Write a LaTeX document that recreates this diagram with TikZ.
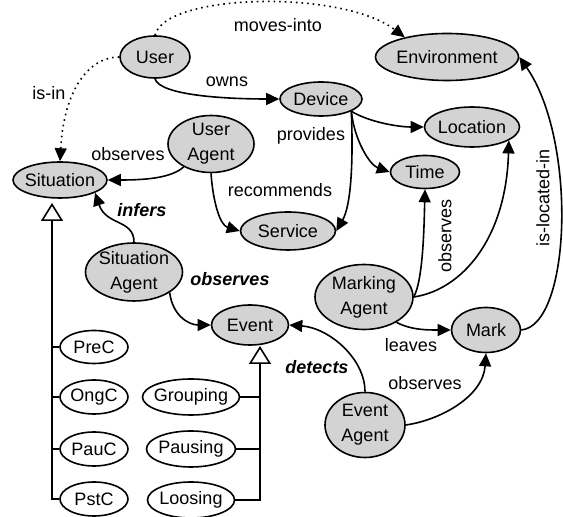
\documentclass[tikz,border=0pt]{standalone}
\usepackage{fontspec}
\setmainfont{Liberation Sans}
\usetikzlibrary{arrows.meta,shapes.geometric}
\definecolor{cgray}{RGB}{211,211,211}
\tikzset{
  cls/.style  ={ellipse, draw=black, fill=cgray, line width=0.8pt, inner sep=-1.5pt,
                align=center, font=\fontsize{9}{12.5}\selectfont},
  sub/.style  ={cls, fill=white},
  ar/.style   ={-{Triangle[length=6.5pt,width=6pt]}, line width=0.8pt},
  ard/.style  ={ar, dotted},
  isa/.style  ={-{Triangle[fill=white,length=9pt,width=11pt]}, line width=0.8pt},
  tree/.style ={line width=0.8pt},
  lbl/.style  ={font=\fontsize{9}{11}\selectfont, inner sep=0pt},
  lblb/.style ={lbl, font=\fontsize{9}{11}\selectfont\bfseries\itshape}
}

\begin{document}
\begin{tikzpicture}[x=0.5pt,y=-0.5pt]
\useasboundingbox (0,0) rectangle (563,517);

% classes
\node[cls, minimum width=35pt, minimum height=21pt] (user) at (155,57) {User};
\node[cls, minimum width=71.5pt, minimum height=23.5pt] (env) at (447,57) {Environment};
\node[cls, minimum width=41pt, minimum height=17pt] (device) at (321,99) {Device};
\node[cls, minimum width=47.5pt, minimum height=20pt] (loc) at (472,127) {Location};
\node[cls, minimum width=34.5pt, minimum height=16.5pt] (time) at (425,172) {Time};
\node[cls, minimum width=47.5pt, minimum height=19pt] (service) at (288,231) {Service};
\node[cls, minimum width=43pt, minimum height=28.5pt] (uagent) at (211,144) {User\\Agent};
\node[cls, minimum width=47pt, minimum height=18pt] (sit) at (60,180) {Situation};
\node[cls, minimum width=48.5pt, minimum height=29pt] (sagent) at (134,272) {Situation\\Agent};
\node[cls, minimum width=38.5pt, minimum height=20pt] (event) at (250,325) {Event};
\node[cls, minimum width=49pt, minimum height=32.5pt] (magent) at (364,297) {Marking\\Agent};
\node[cls, minimum width=34.5pt, minimum height=22.5pt] (mark) at (486,330) {Mark};
\node[cls, minimum width=40pt, minimum height=32.5pt] (eagent) at (365,425) {Event\\Agent};

% subclasses
\node[sub, minimum width=34pt, minimum height=16.5pt] (prec) at (94,347) {PreC};
\node[sub, minimum width=34pt, minimum height=17pt] (ongc) at (94,397) {OngC};
\node[sub, minimum width=34pt, minimum height=17pt] (pauc) at (94,449) {PauC};
\node[sub, minimum width=34pt, minimum height=17pt] (pstc) at (94,499) {PstC};
\node[sub, minimum width=48.5pt, minimum height=18pt] (grouping) at (191,397) {Grouping};
\node[sub, minimum width=44.5pt, minimum height=18pt] (pausing) at (191,449) {Pausing};
\node[sub, minimum width=43.5pt, minimum height=18pt] (loosing) at (191,500) {Loosing};

% is-a trees
\coordinate (sitfoot) at (52,203);
\coordinate (evfoot) at (260,346);
\draw[isa] (pstc.west) -| (sitfoot);
\draw[tree] (prec.west) -- (prec.west -| sitfoot);
\draw[tree] (ongc.west) -- (ongc.west -| sitfoot);
\draw[tree] (pauc.west) -- (pauc.west -| sitfoot);
\draw[isa] (loosing.east) -| (evfoot);
\draw[tree] (grouping.east) -- (grouping.east -| evfoot);
\draw[tree] (pausing.east) -- (pausing.east -| evfoot);

% relations
\draw[ard] (user.north) .. controls +(10,-42) and +(-63,-48) .. (env.155);
\draw[ard] (user.west) .. controls +(-30,0) and +(4,-72) .. (sit.north);
\draw[ar] (user.south) .. controls +(5,17) and +(-51,0) .. (device.west);
\draw[ar] (device.-22) .. controls +(18,11) and +(-25,0) .. (loc.west);
\draw[ar] (device.-22) .. controls +(3,29) and +(-20,-7) .. (time.west);
\draw[ar] (device.-22) .. controls +(2,49) and +(15,-26) .. (service.east);
\draw[ar] (uagent.-140) .. controls +(-13,12) and +(33,0) .. (sit.east);
\draw[ar] (uagent.south) .. controls +(2,28) and +(-20,-6) .. (service.west);
\draw[ar] (sagent.north) .. controls +(0,-23) and +(11,33) .. (sit.-20);
\draw[ar] (sagent.-30) .. controls +(3,23) and +(-22,0) .. (event.west);
\draw[ar] (magent.east) .. controls +(9,-17) and +(-1,42) .. (time.south);
\draw[ar] (magent.east) .. controls +(47,-7) and +(-3,100) .. (loc.-20);
\draw[ar] (magent.-38) .. controls +(15,8) and +(-22,0) .. (mark.west);
\draw[ar] (mark.east) .. controls +(50,-5) and +(58,83) .. (env.east);
\draw[ar] (eagent.north) .. controls +(0,-33) and +(40,3) .. (event.east);
\draw[ar] (eagent.east) .. controls +(35,-5) and +(-3,43) .. (mark.south);

% labels
\node[lbl] (lmoves) at (278,25) {moves-into};
\node[lbl] (lisin) at (49,93) {is-in};
\node[lbl] (lowns) at (227,82) {owns};
\node[lbl] (lprov) at (311,136) {provides};
\node[lbl] (lobsua) at (128,154) {observes};
\node[lbl] (lrecom) at (280,190) {recommends};
\node[lblb] (linfers) at (142,210) {infers};
\node[lblb] (lobssa) at (230,279) {observes};
\node[lbl, rotate=90] (lobsma) at (445,236) {observes};
\node[lbl] (lleaves) at (411,345) {leaves};
\node[lbl, rotate=90] (lisloc) at (543,198) {is-located-in};
\node[lblb] (ldetect) at (317,367) {detects};
\node[lbl] (lobsea) at (425,383) {observes};
\end{tikzpicture}
\end{document}
